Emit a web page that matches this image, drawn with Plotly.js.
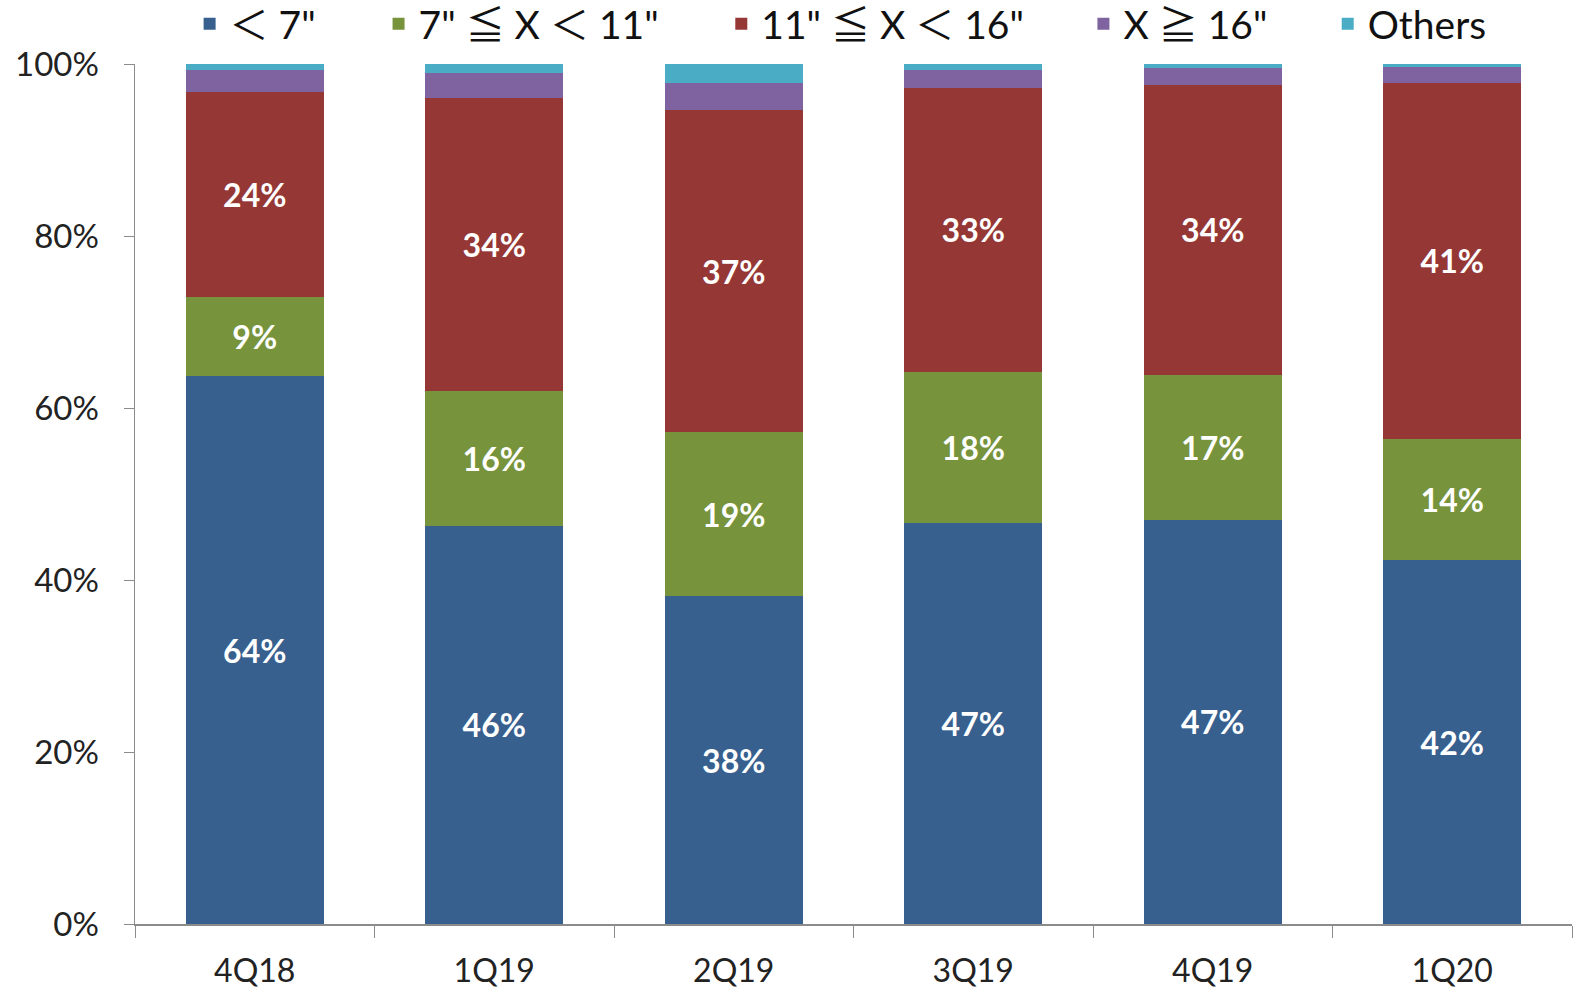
<!DOCTYPE html>
<html>
<head>
<meta charset="utf-8">
<script src="https://cdn.plot.ly/plotly-3.0.1.min.js"></script>
<style>html,body{margin:0;padding:0;background:#fff;}#chart{width:1575px;height:991px;}</style>
</head>
<body>
<div id="chart"></div>
<script>
const categories = ['4Q18', '1Q19', '2Q19', '3Q19', '4Q19', '1Q20'];
const seriesNames = ['＜ 7"', '7" ≦ X ＜ 11"', '11" ≦ X ＜ 16"', 'X ≧ 16"', 'Others'];
const under7 = [63.7, 46.3, 38.1, 46.6, 47.0, 42.3];
const from7to11 = [9.2, 15.7, 19.1, 17.6, 16.8, 14.1];
const from11to16 = [23.8, 34.1, 37.4, 33.0, 33.8, 41.4];
const over16 = [2.6, 2.8, 3.2, 2.1, 1.9, 1.8];
const others = [0.7, 1.1, 2.2, 0.7, 0.5, 0.4];
const colors = ['#37608f', '#77933c', '#953735', '#7f63a1', '#4bacc6'];
const showLabels = [true, true, true, false, false];
const legendIds = ['legend', 'legend2', 'legend3', 'legend4', 'legend5'];
const legendX = [0.038, 0.1695, 0.408, 0.66, 0.83];

const allSeries = [under7, from7to11, from11to16, over16, others];
const traces = allSeries.map((vals, i) => ({
  type: 'bar',
  name: seriesNames[i],
  legend: legendIds[i],
  x: categories,
  y: vals,
  marker: {color: colors[i], line: {width: 0}},
  texttemplate: showLabels[i] ? '%{y:.0f}%' : '',
  textposition: showLabels[i] ? 'inside' : 'none',
  insidetextanchor: 'middle',
  textangle: 0,
  textfont: {family: 'Lato, sans-serif', size: 32, color: '#ffffff', weight: 'bold'},
  hoverinfo: 'x+y+name'
}));

const layout = {
  width: 1575,
  height: 991,
  barmode: 'stack',
  bargap: 0.425,
  paper_bgcolor: '#ffffff',
  plot_bgcolor: '#ffffff',
  margin: {l: 135, r: 3, t: 64, b: 67, autoexpand: false},
  font: {family: 'Lato, sans-serif', color: '#222222'},
  showlegend: true,
  xaxis: {
    type: 'category',
    showline: true,
    linecolor: '#8c8c8c',
    linewidth: 1.5,
    ticks: 'outside',
    tickson: 'boundaries',
    ticklen: 12,
    tickcolor: '#8c8c8c',
    tickfont: {family: 'Lato, sans-serif', size: 32, color: '#222222'},
    ticklabelstandoff: 18,
    showgrid: false,
    zeroline: false,
    automargin: false,
    fixedrange: true
  },
  yaxis: {
    range: [0, 100],
    tickvals: [0, 20, 40, 60, 80, 100],
    ticktext: ['0%', '20%', '40%', '60%', '80%', '100%'],
    showline: true,
    linecolor: '#8c8c8c',
    linewidth: 1.5,
    ticks: 'outside',
    ticklen: 10,
    tickcolor: '#8c8c8c',
    tickfont: {family: 'Lato, sans-serif', size: 33, color: '#222222'},
    ticklabelstandoff: 18,
    showgrid: false,
    zeroline: false,
    automargin: false,
    fixedrange: true
  }
};

legendIds.forEach((id, i) => {
  layout[id] = {
    orientation: 'h',
    x: legendX[i], xanchor: 'left',
    y: 1.0465, yanchor: 'middle',
    font: {family: 'Lato, "Noto Sans CJK JP", sans-serif', size: 39, color: '#111111'},
    bgcolor: 'rgba(0,0,0,0)',
    itemwidth: 30
  };
});

Plotly.newPlot('chart', traces, layout, {displayModeBar: false, staticPlot: true});
</script>
</body>
</html>
